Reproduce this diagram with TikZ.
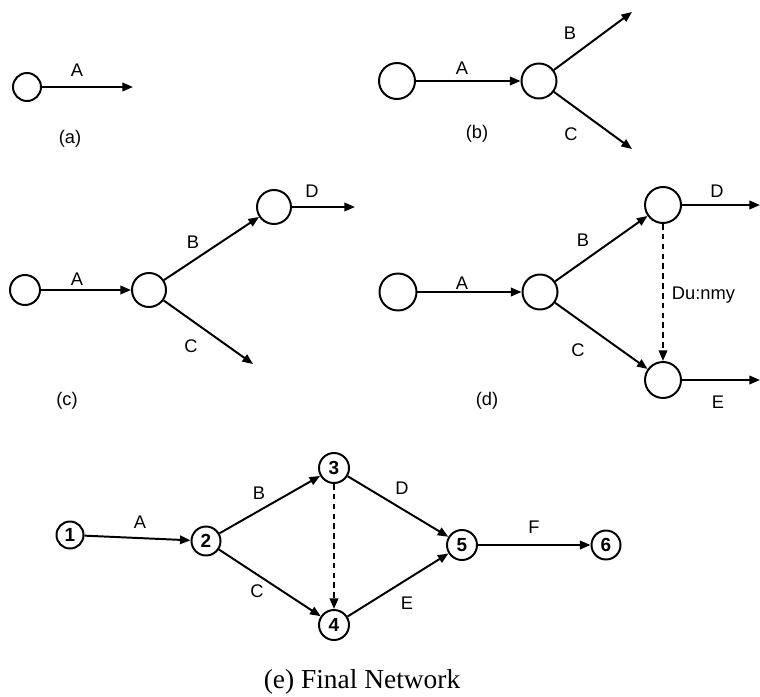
\documentclass[tikz,border=0pt]{standalone}
\usepackage{fontspec}
\setmainfont{Liberation Sans}
\newfontfamily\capfont{Liberation Serif}
\usetikzlibrary{arrows.meta}
\begin{document}
\begin{tikzpicture}[x=0.025cm,y=-0.025cm,
  ev/.style={draw, circle, line width=1.4pt, inner sep=0pt, minimum size=#1*0.025cm},
  act/.style={line width=1.4pt, -{Triangle[length=7.5pt,width=6pt]}},
  dum/.style={act, dash pattern=on 4pt off 3pt},
  lbl/.style={font=\fontsize{13}{15}\selectfont},
  num/.style={font=\fontsize{13.5}{15}\selectfont\bfseries},
  captext/.style={font=\capfont\fontsize{19.5}{22}\selectfont}]
\useasboundingbox (0,0) rectangle (760,696);

% (a)
\node[ev=28] (a1) at (27,87) {};
\coordinate (a2) at (133,87);
\draw[act] (a1) -- (a2);
\node[lbl] (aA) at (77,70) {A};
\node[lbl] (acap) at (70,139) {(a)};

% (b)
\node[ev=36] (b1) at (397,81) {};
\node[ev=35] (b2) at (539,81) {};
\coordinate (bB) at (632,12);
\coordinate (bC) at (632,149);
\draw[act] (b1) -- (b2);
\draw[act] (b2) -- (bB);
\draw[act] (b2) -- (bC);
\node[lbl] (bA) at (462,68) {A};
\node[lbl] (bBl) at (570,33) {B};
\node[lbl] (bCl) at (571,134) {C};
\node[lbl] (bcap) at (477,134) {(b)};

% (c)
\node[ev=30] (c1) at (25,290) {};
\node[ev=34] (c2) at (149,290) {};
\node[ev=34] (c3) at (274,207) {};
\coordinate (cD) at (355,207);
\coordinate (cC) at (253,364);
\draw[act] (c1) -- (c2);
\draw[act] (c2) -- (c3);
\draw[act] (c2) -- (cC);
\draw[act] (c3) -- (cD);
\node[lbl] (cA) at (77,279) {A};
\node[lbl] (cB) at (193,242) {B};
\node[lbl] (cCl) at (191,346) {C};
\node[lbl] (cDl) at (312,191) {D};
\node[lbl] (ccap) at (67,401) {(c)};

% (d)
\node[ev=37] (d1) at (398,292) {};
\node[ev=35] (d2) at (540,292) {};
\node[ev=36] (d3) at (663,205) {};
\node[ev=36] (d4) at (663,380) {};
\coordinate (dD) at (760,205);
\coordinate (dE) at (760,380);
\draw[act] (d1) -- (d2);
\draw[act] (d2) -- (d3);
\draw[act] (d2) -- (d4);
\draw[dum] (d3) -- (d4);
\draw[act] (d3) -- (dD);
\draw[act] (d4) -- (dE);
\node[lbl] (dA) at (462,283) {A};
\node[lbl] (dB) at (583,240) {B};
\node[lbl] (dC) at (578,350) {C};
\node[lbl] (dDl) at (717,191) {D};
\node[lbl] (dEl) at (718,402) {E};
\node[lbl, anchor=west] (dDum) at (667,295) {Du:nmy};
\node[lbl] (dcap) at (487,401) {(d)};

% (e)
\node[ev=27, num] (e1) at (70,535) {1};
\node[ev=29, num] (e2) at (206,541) {2};
\node[ev=30, num] (e3) at (334,468) {3};
\node[ev=30, num] (e4) at (334,625) {4};
\node[ev=30, num] (e5) at (462,545) {5};
\node[ev=29, num] (e6) at (606,545) {6};
\draw[act] (e1) -- (e2);
\draw[act] (e2) -- (e3);
\draw[act] (e2) -- (e4);
\draw[dum] (e3) -- (e4);
\draw[act] (e3) -- (e5);
\draw[act] (e4) -- (e5);
\draw[act] (e5) -- (e6);
\node[lbl] (eA) at (140,522) {A};
\node[lbl] (eB) at (259,493) {B};
\node[lbl] (eC) at (257,591) {C};
\node[lbl] (eD) at (402,488) {D};
\node[lbl] (eE) at (407,603) {E};
\node[lbl] (eF) at (534,527) {F};
\node[captext] (ecap) at (362,682) {(e) Final Network};
\end{tikzpicture}
\end{document}
